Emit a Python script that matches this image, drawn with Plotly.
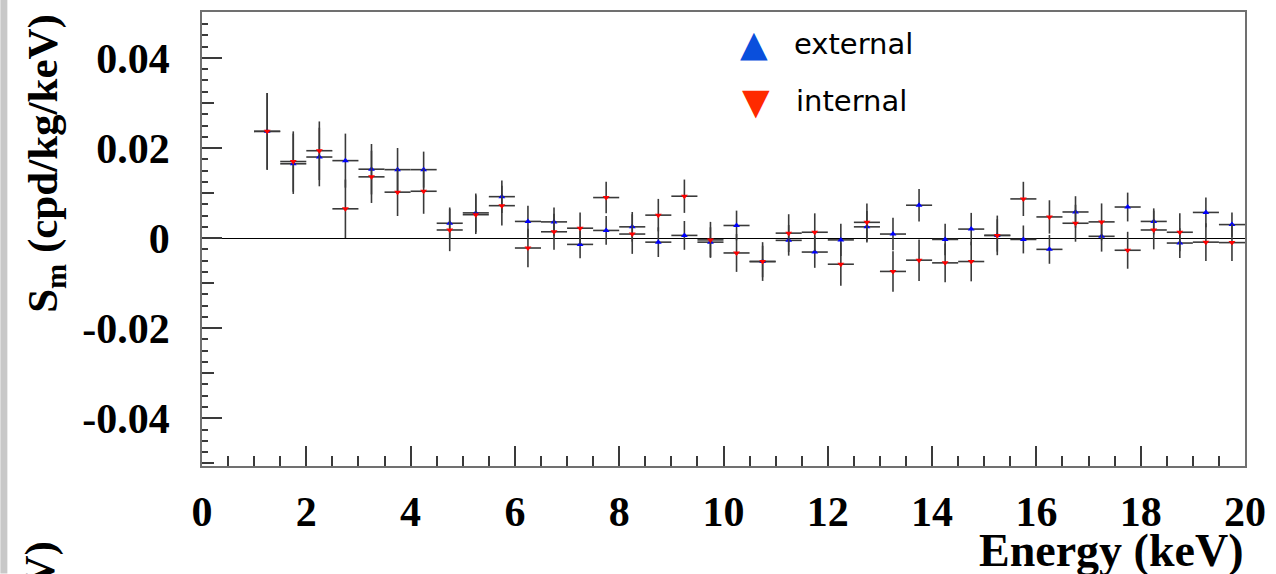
import plotly.graph_objects as go

energy = [1.25, 1.75, 2.25, 2.75, 3.25, 3.75, 4.25, 4.75, 5.25, 5.75,
          6.25, 6.75, 7.25, 7.75, 8.25, 8.75, 9.25, 9.75, 10.25, 10.75,
          11.25, 11.75, 12.25, 12.75, 13.25, 13.75, 14.25, 14.75, 15.25, 15.75,
          16.25, 16.75, 17.25, 17.75, 18.25, 18.75, 19.25, 19.75]
half_bin = [0.25] * len(energy)

external = [0.0237, 0.0165, 0.0180, 0.0172, 0.0153, 0.0152, 0.0152, 0.0033, 0.0056, 0.0092,
            0.0037, 0.0036, -0.0014, 0.0017, 0.0025, -0.0009, 0.0006, -0.0009, 0.0028, -0.0052,
            -0.0005, -0.0031, -0.0004, 0.0025, 0.0009, 0.0073, -0.0003, 0.0020, 0.0006, -0.0003,
            -0.0025, 0.0058, 0.0004, 0.0069, 0.0037, -0.0011, 0.0057, 0.0030]
external_err = [0.0085, 0.0067, 0.0065, 0.0060, 0.0056, 0.0048, 0.0040, 0.0035, 0.0043, 0.0036,
                0.0035, 0.0032, 0.0031, 0.0032, 0.0033, 0.0033, 0.0032, 0.0033, 0.0033, 0.0035,
                0.0034, 0.0035, 0.0036, 0.0035, 0.0036, 0.0036, 0.0035, 0.0036, 0.0036, 0.0031,
                0.0032, 0.0035, 0.0034, 0.0032, 0.0029, 0.0033, 0.0033, 0.0027]

internal = [0.0237, 0.0170, 0.0194, 0.0065, 0.0136, 0.0102, 0.0104, 0.0018, 0.0052, 0.0072,
            -0.0022, 0.0014, 0.0022, 0.0090, 0.0009, 0.0051, 0.0093, -0.0004, -0.0033, -0.0052,
            0.0011, 0.0013, -0.0058, 0.0035, -0.0074, -0.0049, -0.0055, -0.0052, 0.0006, 0.0087,
            0.0047, 0.0033, 0.0036, -0.0027, 0.0018, 0.0013, -0.0009, -0.0010]
internal_err = [0.0085, 0.0067, 0.0065, 0.0065, 0.0058, 0.0053, 0.0050, 0.0047, 0.0043, 0.0044,
                0.0043, 0.0040, 0.0035, 0.0035, 0.0044, 0.0036, 0.0037, 0.0040, 0.0042, 0.0043,
                0.0042, 0.0042, 0.0048, 0.0042, 0.0045, 0.0046, 0.0043, 0.0044, 0.0044, 0.0038,
                0.0037, 0.0041, 0.0041, 0.0041, 0.0043, 0.0042, 0.0042, 0.0041]

BAR = "#3a3a3a"
SERIF = "Liberation Serif"

fig = go.Figure()
for name, vals, errs, sym, col in [
    ("external", external, external_err, "triangle-up", "#0000ff"),
    ("internal", internal, internal_err, "triangle-down", "#ff0000"),
]:
    fig.add_trace(go.Scatter(
        x=energy, y=vals, mode="markers", name=name, showlegend=False,
        marker=dict(symbol=sym, size=6, color=col, line=dict(width=0)),
        error_y=dict(type="data", array=errs, color=BAR, thickness=1.6, width=0),
        error_x=dict(type="data", array=half_bin, color=BAR, thickness=1.6, width=0),
    ))

# invisible trace on the overlay axis to carry the 0.01 medium ticks
fig.add_trace(go.Scatter(x=[None], y=[None], yaxis="y2", showlegend=False, hoverinfo="skip"))

tickfont = dict(family=SERIF, size=42, color="black", weight="bold")

fig.update_layout(
    width=1276, height=574,
    margin=dict(l=202, r=30, t=10, b=108),
    paper_bgcolor="white", plot_bgcolor="white",
    showlegend=False,
    xaxis=dict(
        range=[0, 20], tickmode="linear", tick0=0, dtick=2,
        ticks="inside", ticklen=20, tickwidth=1.5, tickcolor=BAR,
        minor=dict(dtick=0.5, ticks="inside", ticklen=10, tickwidth=1.5, tickcolor=BAR),
        showgrid=False, zeroline=False,
        showline=True, linecolor="#707070", linewidth=1.8, mirror=True,
        tickfont=tickfont, ticklabelstandoff=8,
    ),
    yaxis=dict(
        range=[-0.0506, 0.0502], tickmode="array",
        tickvals=[-0.04, -0.02, 0, 0.02, 0.04],
        ticktext=["-0.04", "-0.02", "0", "0.02", "0.04"],
        ticks="inside", ticklen=20, tickwidth=1.5, tickcolor=BAR,
        minor=dict(tickmode="linear", tick0=0, dtick=0.0025, ticks="inside", ticklen=6,
                   tickwidth=1.5, tickcolor=BAR),
        showgrid=False,
        zeroline=True, zerolinecolor="black", zerolinewidth=1.2,
        showline=True, linecolor="#707070", linewidth=1.8, mirror=True,
        tickfont=tickfont, ticklabelstandoff=22,
    ),
    yaxis2=dict(
        overlaying="y", side="left", range=[-0.0506, 0.0502],
        tickmode="linear", tick0=0, dtick=0.01,
        ticks="inside", ticklen=12, tickwidth=1.5, tickcolor=BAR,
        showticklabels=False, showgrid=False, zeroline=False, showline=False,
    ),
)

annotations = [
    dict(text="S<sub>m</sub> (cpd/kg/keV)", textangle=-90, xref="paper", yref="paper",
         x=(45 - 202) / 1045, y=1.0, xanchor="center", yanchor="top", showarrow=False,
         font=dict(family=SERIF, size=43, color="black", weight="bold")),
    dict(text="Energy (keV)", xref="paper", yref="paper",
         x=1.0, y=(466 - 551) / 456, xanchor="right", yanchor="middle", showarrow=False,
         font=dict(family=SERIF, size=46, color="black", weight="bold")),
    # cropped title of the neighbouring panel
    dict(text="V)", textangle=-90, xref="paper", yref="paper",
         x=(40 - 202) / 1045, y=(466 - 540) / 456, xanchor="center", yanchor="top",
         showarrow=False, font=dict(family=SERIF, size=43, color="black", weight="bold")),
    # legend
    dict(text="▲", xref="paper", yref="paper", x=(755 - 202) / 1045, y=(466 - 42) / 456,
         xanchor="center", yanchor="middle", showarrow=False,
         font=dict(family="DejaVu Sans", size=36, color="#0a4fdc")),
    dict(text="external", xref="paper", yref="paper", x=(793 - 202) / 1045, y=(466 - 42) / 456,
         xanchor="left", yanchor="middle", showarrow=False,
         font=dict(family="DejaVu Sans", size=29, color="black")),
    dict(text="▼", xref="paper", yref="paper", x=(757 - 202) / 1045, y=(466 - 100) / 456,
         xanchor="center", yanchor="middle", showarrow=False,
         font=dict(family="DejaVu Sans", size=36, color="#ff2a00")),
    dict(text="internal", xref="paper", yref="paper", x=(795 - 202) / 1045, y=(466 - 99) / 456,
         xanchor="left", yanchor="middle", showarrow=False,
         font=dict(family="DejaVu Sans", size=29, color="black")),
]
fig.update_layout(annotations=annotations)

# light grey strip at the left page edge
fig.add_shape(type="rect", xref="paper", yref="paper",
              x0=-202 / 1045, x1=(7 - 202) / 1045, y0=-108 / 456, y1=(466) / 456 + 0.03,
              fillcolor="#c8c8c8", line=dict(width=0), layer="below")

fig.write_html("out.html", config={"displayModeBar": False},
               post_script="document.body.style.margin='0px';document.body.style.overflow='hidden';")
